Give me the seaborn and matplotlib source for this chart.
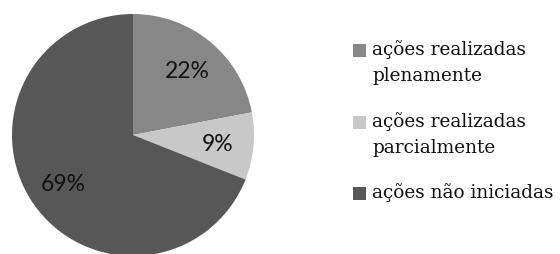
import matplotlib
matplotlib.use("Agg")
import matplotlib.pyplot as plt
from matplotlib.patches import Rectangle
import seaborn as sns

sns.set_theme(style="white")

categories = ["ações realizadas\nplenamente", "ações realizadas\nparcialmente", "ações não iniciadas"]
values = [22, 9, 69]
colors = ["#878787", "#c8c8c8", "#575757"]

W, H = 560, 254
fig = plt.figure(figsize=(W / 100, H / 100), dpi=100)
ax = fig.add_axes([12 / W, -2 / H, 242 / W, 242 / H])

wedges, texts, autotexts = ax.pie(
    values,
    colors=colors,
    startangle=90,
    counterclock=False,
    autopct="%d%%",
    pctdistance=0.7,
    wedgeprops={"linewidth": 0},
    textprops={"fontsize": 16.5, "color": "#111111", "family": ["Lato", "DejaVu Sans"],
               "va": "center_baseline"},
)
ax.set_xlim(-1, 1)
ax.set_ylim(-1, 1)
ax.set_aspect("equal")

# legend drawn by hand so the square sits beside the first line of each label
legend_font = {"family": ["DejaVu Serif"], "size": 13.3}
row_tops = [44, 116, 187]  # top of each square, px from top
for wedge, label, top in zip(wedges, categories, row_tops):
    fig.patches.append(
        Rectangle((353 / W, 1 - (top + 13) / H), 13 / W, 13 / H,
                  transform=fig.transFigure, facecolor=wedge.get_facecolor(),
                  edgecolor="none")
    )
    fig.text(372 / W, 1 - (top - 4) / H, label, ha="left", va="top",
             color="#111111", linespacing=1.55, fontdict=legend_font)

fig.savefig("out.png", dpi=100)
